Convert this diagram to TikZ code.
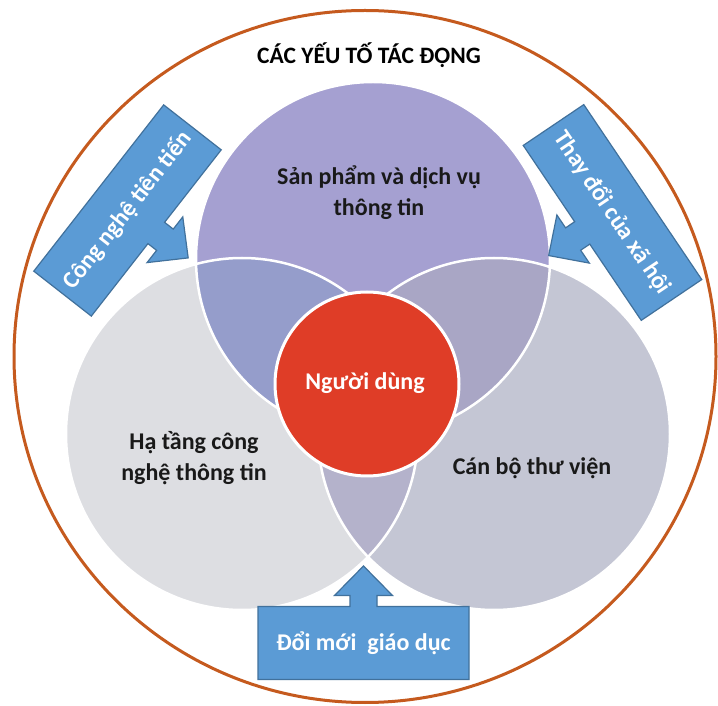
\documentclass[tikz,border=0pt]{standalone}
\usepackage{fontspec}
\setmainfont{Carlito}
\definecolor{outerc}{RGB}{197,90,30}
\definecolor{cP}{RGB}{165,160,209}
\definecolor{cL}{RGB}{221,222,226}
\definecolor{cR}{RGB}{196,198,212}
\definecolor{cPL}{RGB}{149,157,203}
\definecolor{cPR}{RGB}{169,166,197}
\definecolor{cLR}{RGB}{180,178,203}
\definecolor{cU}{RGB}{223,61,39}
\definecolor{bfill}{RGB}{91,155,213}
\definecolor{bline}{RGB}{65,113,156}
\definecolor{txt}{RGB}{25,25,25}
\tikzset{
  outerring/.style={draw=outerc, line width=3pt},
  sep/.style={draw=white, line width=2.5pt},
  callout/.style={fill=bfill, draw=bline, line width=1.2pt, line join=miter},
  titletext/.style={font=\fontsize{23.5}{28}\selectfont\bfseries, text=black, inner sep=0pt},
  lbl/.style={font=\fontsize{24}{31}\selectfont\bfseries, text=txt, align=center, inner sep=0pt},
  ulbl/.style={font=\fontsize{24}{28}\selectfont\bfseries, text=white, inner sep=0pt},
  arrtxt/.style={font=\fontsize{24}{28}\selectfont\bfseries, text=white, inner sep=0pt},
}
\newcommand\calloutshape{(-105.5,36.5) -- (105.5,36.5) -- (105.5,-36.5) -- (13.5,-36.5) -- (13.5,-47.5) -- (29,-47.5) -- (0,-77) -- (-29,-47.5) -- (-13.5,-47.5) -- (-13.5,-36.5) -- (-105.5,-36.5) -- cycle}
\begin{document}
\begin{tikzpicture}[x=1pt,y=1pt]
\useasboundingbox (0,0) rectangle (718,705);
\fill[white] (0,0) rectangle (718,705);
\draw[outerring] (365,348.5) ellipse [x radius=351pt, y radius=346pt];
\coordinate (P) at (373,446);
\coordinate (L) at (242,271);
\coordinate (R) at (494,271);
\coordinate (U) at (367,321);
\fill[cP] (P) circle (177pt);
\fill[cL] (L) circle (176pt);
\fill[cR] (R) circle (176pt);
\begin{scope}
  \clip (P) circle (177pt);
  \fill[cPL] (L) circle (176pt);
  \fill[cPR] (R) circle (176pt);
\end{scope}
\begin{scope}
  \clip (L) circle (176pt);
  \fill[cLR] (R) circle (176pt);
\end{scope}
\draw[sep] (P) circle (177pt) (L) circle (176pt) (R) circle (176pt);
\fill[cU] (U) circle (92pt);
\draw[white, line width=3pt] (U) circle (92pt);
% callouts
\path[callout, shift={(127.5,494.5)}, rotate=52] \calloutshape;
\path[callout, shift={(612.5,492.5)}, rotate=-56] \calloutshape;
\path[callout, shift={(363.5,62)}, yscale=-1] \calloutshape;
% texts
\node[titletext] (title) at (369,650) {CÁC YẾU TỐ TÁC ĐỘNG};
\node[lbl] (sp) at (379,512.5) {Sản phẩm và dịch vụ\\thông tin};
\node[lbl] (ht) at (194,247) {Hạ tầng công\\nghệ thông tin};
\node[lbl] (cb) at (532,237) {Cán bộ thư viện};
\node[ulbl] (nd) at (365,322) {Người dùng};
\node[arrtxt, rotate=52] (cn) at (127.5,494.5) {Công nghệ tiên tiến};
\node[arrtxt, rotate=-56] (td) at (612.5,492.5) {Thay đổi của xã hội};
\node[arrtxt] (dm) at (363.5,62) {Đổi mới\ \ giáo dục};
\end{tikzpicture}
\end{document}
